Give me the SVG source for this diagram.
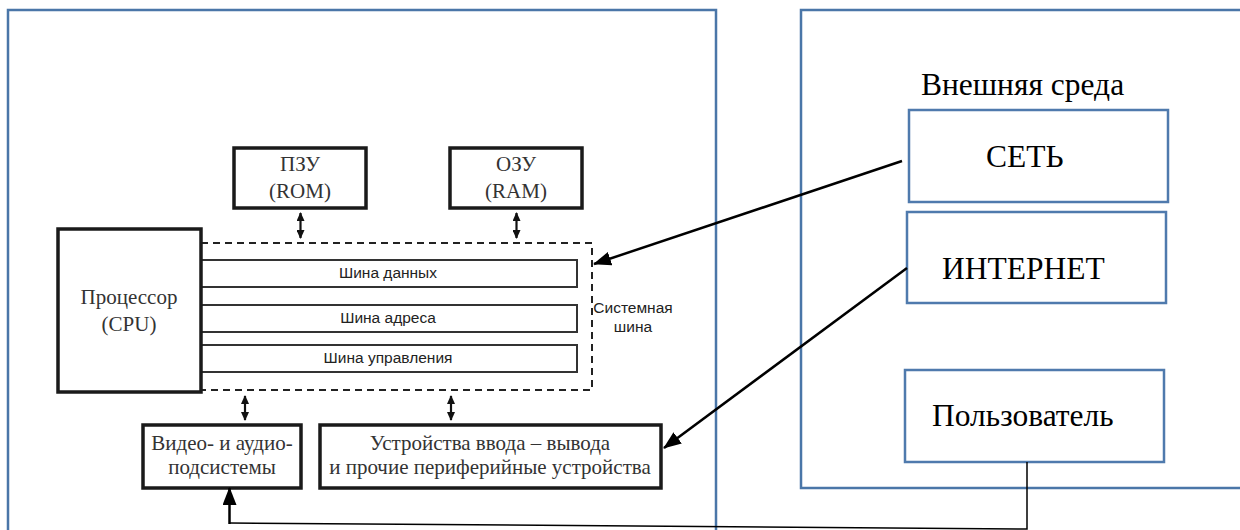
<svg xmlns="http://www.w3.org/2000/svg" width="1240" height="530" viewBox="0 0 1240 530">
<style>
.panel{fill:none;stroke:#4a76a8;stroke-width:2.5}
.bbox{fill:#fff;stroke:#4f7aad;stroke-width:2.5}
.tbox{fill:#fff;stroke:#1a1a1a;stroke-width:3.5}
.bus{fill:#fff;stroke:#333;stroke-width:2}
.dash{fill:none;stroke:#222;stroke-width:2;stroke-dasharray:7,5}
.serif{font-family:"Liberation Serif","Times New Roman",serif;fill:#000}
.gserif{font-family:"Liberation Serif","Times New Roman",serif;fill:#333;font-size:21px}
.sans{font-family:"Liberation Sans",Arial,sans-serif;fill:#222;font-size:15.5px}
.big{font-size:31.5px}
.conn{fill:none;stroke:#000;stroke-width:2.5}
.dbl{fill:none;stroke:#111;stroke-width:2.2}
</style>
<defs>
<marker id="ah" markerWidth="9" markerHeight="8" refX="8" refY="4" orient="auto-start-reverse" markerUnits="userSpaceOnUse" viewBox="0 0 9 8">
<path d="M0,0 L9,4 L0,8 Z" fill="#111"/>
</marker>
<marker id="big" markerWidth="18" markerHeight="14" refX="17" refY="7" orient="auto" markerUnits="userSpaceOnUse" viewBox="0 0 18 14">
<path d="M0,0 L18,7 L0,14 Z" fill="#000"/>
</marker>
</defs>
<rect width="1240" height="530" fill="#fff"/>
<g id="panel-left"><rect class="panel" x="8" y="10" width="708" height="530"/></g>
<g id="panel-right"><rect class="panel" x="801" y="10" width="450" height="478"/>
<text class="serif big" x="921" y="95">Внешняя среда</text></g>

<g id="rom"><rect class="tbox" x="234" y="148" width="132" height="60"/>
<text class="gserif" x="300" y="171" text-anchor="middle">ПЗУ</text>
<text class="gserif" x="300" y="198" text-anchor="middle">(ROM)</text></g>
<g id="ram"><rect class="tbox" x="450" y="148" width="132" height="60"/>
<text class="gserif" x="516" y="171" text-anchor="middle">ОЗУ</text>
<text class="gserif" x="516" y="198" text-anchor="middle">(RAM)</text></g>
<g id="sysbus"><rect class="dash" x="201" y="243" width="391" height="147"/>
<text class="sans" x="633" y="313" text-anchor="middle">Системная</text>
<text class="sans" x="633" y="332" text-anchor="middle">шина</text></g>
<g id="bus-data"><rect class="bus" x="196" y="260" width="381" height="27"/>
<text class="sans" x="388" y="278" text-anchor="middle">Шина данных</text></g>
<g id="bus-addr"><rect class="bus" x="196" y="305" width="381" height="27"/>
<text class="sans" x="388" y="323" text-anchor="middle">Шина адреса</text></g>
<g id="bus-ctrl"><rect class="bus" x="196" y="345" width="381" height="27"/>
<text class="sans" x="388" y="363" text-anchor="middle">Шина управления</text></g>
<g id="cpu"><rect class="tbox" x="58" y="229" width="143" height="163"/>
<text class="gserif" x="129" y="304" text-anchor="middle">Процессор</text>
<text class="gserif" x="129" y="331" text-anchor="middle">(CPU)</text></g>
<g id="video"><rect class="tbox" x="143" y="425" width="158" height="63"/>
<text class="gserif" x="222" y="450" text-anchor="middle">Видео- и аудио-</text>
<text class="gserif" x="222" y="474" text-anchor="middle">подсистемы</text></g>
<g id="io"><rect class="tbox" x="320" y="425" width="341" height="63"/>
<text class="gserif" x="490" y="450" text-anchor="middle">Устройства ввода – вывода</text>
<text class="gserif" x="490" y="474" text-anchor="middle">и прочие периферийные устройства</text></g>

<g id="net"><rect class="bbox" x="909" y="110" width="259" height="92"/>
<text class="serif big" x="986" y="167">СЕТЬ</text></g>
<g id="internet"><rect class="bbox" x="907" y="212" width="259" height="91"/>
<text class="serif big" x="942" y="279">ИНТЕРНЕТ</text></g>
<g id="user"><rect class="bbox" x="905" y="370" width="259" height="92"/>
<text class="serif big" x="932" y="426">Пользователь</text></g>

<g id="connectors">
<line class="dbl" x1="300.5" y1="213" x2="300.5" y2="238" marker-start="url(#ah)" marker-end="url(#ah)"/>
<line class="dbl" x1="516.5" y1="213" x2="516.5" y2="238" marker-start="url(#ah)" marker-end="url(#ah)"/>
<line class="dbl" x1="245" y1="396" x2="245" y2="420" marker-start="url(#ah)" marker-end="url(#ah)"/>
<line class="dbl" x1="451" y1="396" x2="451" y2="420" marker-start="url(#ah)" marker-end="url(#ah)"/>
<line class="conn" x1="902" y1="161" x2="594" y2="264" marker-end="url(#big)"/>
<line class="conn" x1="907" y1="268" x2="664" y2="448" marker-end="url(#big)"/>
<polyline fill="none" stroke="#000" stroke-width="1.5" points="1027,462 1027,529 229.5,523"/>
<line stroke="#000" stroke-width="2.5" x1="229.5" y1="524" x2="229.5" y2="488" marker-end="url(#big)"/>
</g>
</svg>
